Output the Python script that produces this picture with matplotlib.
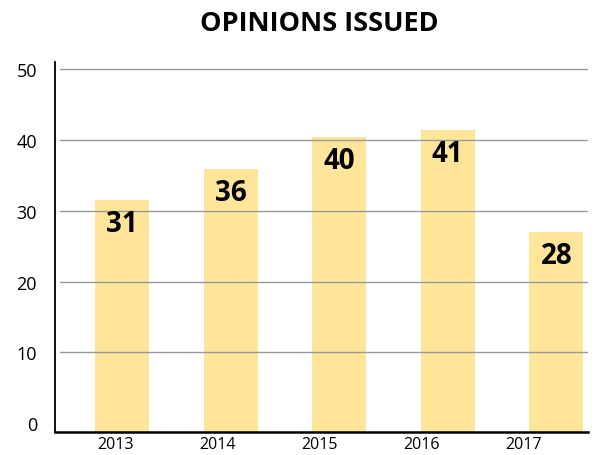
import matplotlib.pyplot as plt
import numpy as np

# data
years = ['2013', '2014', '2015', '2016', '2017']
bar_heights = [31.5, 35.9, 40.4, 41.4, 27.0]
value_labels = ['31', '36', '40', '41', '28']
y_ticks = [0, 10, 20, 30, 40, 50]

bar_color = '#FEE599'
y_low, y_high = -1.27, 51.06

fig = plt.figure(figsize=(6.01, 4.56), dpi=100)
ax = fig.add_axes([0.0915, 0.0504, 0.8865, 0.8116])

x = np.arange(len(years))
# bars run down to the axis line, which sits a little below zero
heights = np.array(bar_heights) - y_low
ax.bar(x, heights, bottom=y_low, width=0.5, color=bar_color, zorder=1)

# gridlines drawn over the bars
for t in y_ticks[1:]:
    ax.axhline(t, xmin=0.01, xmax=1.0, color='#999999', linewidth=1.0, zorder=2)

# value labels inside the top of each bar
for xi, h, lab in zip(x, bar_heights, value_labels):
    ax.annotate(lab, (xi, h), xytext=(0, -17), textcoords='offset points',
                ha='center', va='center', fontsize=20, fontweight='bold',
                family='Open Sans', color='black', zorder=3)

ax.set_xlim(-0.62, 4.29)
ax.set_ylim(y_low, y_high)

ax.set_yticks(y_ticks)
ax.set_yticklabels([str(t) for t in y_ticks], family='Open Sans', fontsize=13)
ax.tick_params(axis='y', length=0, pad=13)

# year labels sit a little left of each bar
ax.set_xticks(x * 0.94 - 0.06)
ax.set_xticklabels(years, family='Open Sans', fontsize=11.5)
ax.tick_params(axis='x', length=0, pad=3)

for side in ['top', 'right']:
    ax.spines[side].set_visible(False)
ax.spines['left'].set_linewidth(1.3)
ax.spines['bottom'].set_linewidth(1.8)

fig.text(0.531, 0.947, 'OPINIONS ISSUED', ha='center', va='center',
         fontsize=19.5, fontweight='bold', family='Open Sans')

fig.savefig('out.png', dpi=100)
